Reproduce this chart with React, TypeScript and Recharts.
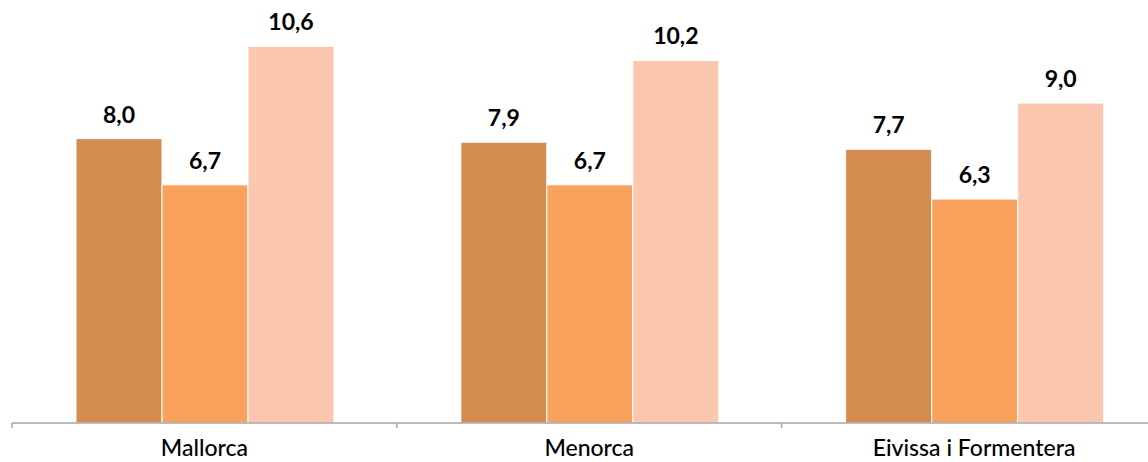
import { Bar, BarChart, LabelList, XAxis, YAxis } from "recharts";

const ISLANDS = ["Mallorca", "Menorca", "Eivissa i Formentera"];
const SERIES_A = [8.0, 7.9, 7.7];
const SERIES_B = [6.7, 6.7, 6.3];
const SERIES_C = [10.6, 10.2, 9.0];

const COLORS = ["#D38B50", "#F8A25E", "#FBC7AE"];
const AXIS = "#A6A6A6";
const FONT = "'Gill Sans', 'Gill Sans MT', Lato, 'Open Sans', sans-serif";

const data = ISLANDS.map((name, i) => ({
  name,
  a: SERIES_A[i],
  b: SERIES_B[i],
  c: SERIES_C[i],
}));

const fmt = (v: number) => v.toFixed(1).replace(".", ",");

function EdgeTick(props: any) {
  const { x, y, payload, index } = props;
  const half = payload.offset ?? 0;
  const last = index === ISLANDS.length - 1;
  return (
    <g>
      <line x1={x - half} x2={x - half} y1={y} y2={y + 5} stroke={AXIS} strokeWidth={1.5} />
      {last && <line x1={x + half} x2={x + half} y1={y} y2={y + 5} stroke={AXIS} strokeWidth={1.5} />}
      <text x={x} y={y + 33} textAnchor="middle" fontSize={23} fontWeight={500} fontFamily={FONT} fill="#000">
        {payload.value}
      </text>
    </g>
  );
}

export default function App() {
  const label = { position: "top" as const, offset: 16, fontSize: 23, fontWeight: 700, fontFamily: FONT, fill: "#000", formatter: fmt };
  return (
    <div style={{ position: "absolute", top: 0, left: 0, width: 1148, height: 462, overflow: "hidden", background: "#fff" }}>
      <BarChart
        width={1170}
        height={462}
        data={data}
        margin={{ top: 0, right: 3.5, bottom: 0, left: 12 }}
        barCategoryGap={64}
        barGap={0}
      >
        <XAxis
          dataKey="name"
          height={39}
          axisLine={{ stroke: AXIS, strokeWidth: 1.5 }}
          tickLine={false}
          tickSize={0}
          tickMargin={0}
          interval={0}
          tick={<EdgeTick />}
        />
        <YAxis hide domain={[0, 11.9]} />
        <Bar dataKey="a" fill={COLORS[0]} stroke="#fff" strokeWidth={1} isAnimationActive={false}>
          <LabelList dataKey="a" {...label} />
        </Bar>
        <Bar dataKey="b" fill={COLORS[1]} stroke="#fff" strokeWidth={1} isAnimationActive={false}>
          <LabelList dataKey="b" {...label} />
        </Bar>
        <Bar dataKey="c" fill={COLORS[2]} stroke="#fff" strokeWidth={1} isAnimationActive={false}>
          <LabelList dataKey="c" {...label} />
        </Bar>
      </BarChart>
    </div>
  );
}
